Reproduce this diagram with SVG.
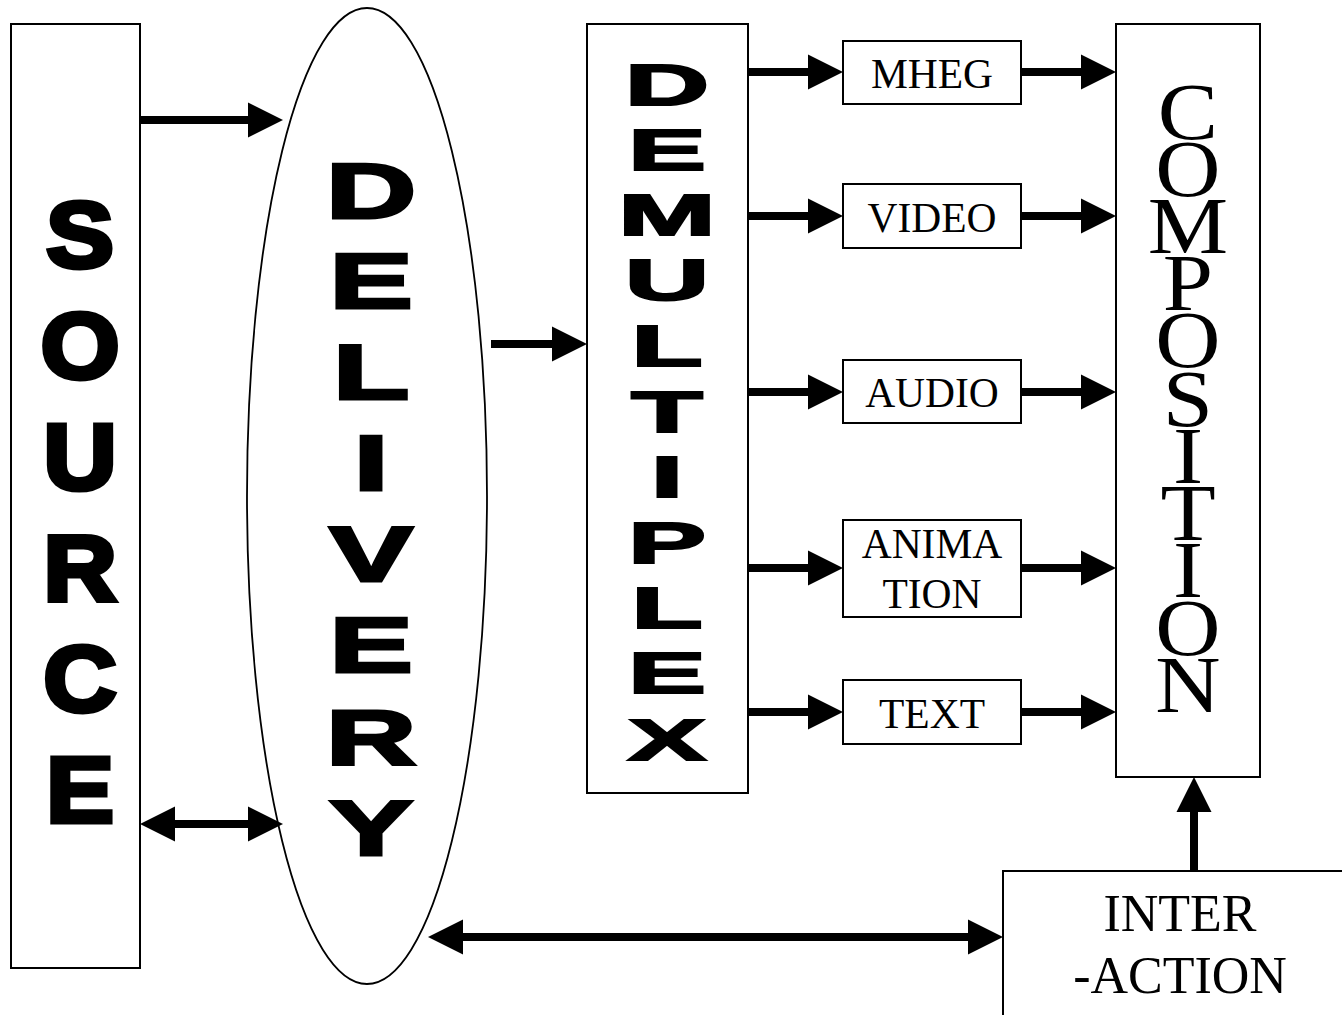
<svg xmlns="http://www.w3.org/2000/svg" width="1342" height="1015" viewBox="0 0 1342 1015">
  <style>
    .box { fill: #fff; stroke: #000; stroke-width: 2; }
    .outline { fill: none; stroke: #000; stroke-width: 1.8; }
    .heavy { font-family: "Liberation Sans", Arial, sans-serif; font-weight: bold; fill: #000; stroke: #000; stroke-linejoin: miter; text-anchor: middle; }
    .serif { font-family: "Liberation Serif", "Times New Roman", serif; fill: #000; text-anchor: middle; }
    .small { font-size: 41.5px; }
    .wire { fill: none; stroke: #000; stroke-width: 8; }
  </style>
  <defs>
    <marker id="head" markerUnits="userSpaceOnUse" markerWidth="36" markerHeight="36" refX="5" refY="17.5" orient="auto-start-reverse" viewBox="0 0 36 35" overflow="visible">
      <path d="M0,0 L35,17.5 L0,35 Z" fill="#000"/>
    </marker>
  </defs>

  <!-- SOURCE -->
  <g id="source">
    <rect class="box" x="11" y="24" width="129" height="944"/>
    <g transform="translate(80,0) scale(1.1,1)">
      <g class="heavy" font-size="92" stroke-width="5">
        <text x="0" y="267.5">S</text>
        <text x="0" y="378.5">O</text>
        <text x="0" y="489.5">U</text>
        <text x="0" y="600.5">R</text>
        <text x="0" y="711.5">C</text>
        <text x="0" y="822.5">E</text>
      </g>
    </g>
  </g>

  <!-- DELIVERY -->
  <g id="delivery">
    <ellipse class="outline" cx="367" cy="496" rx="120" ry="488"/>
    <g transform="translate(371,0) scale(1.6,1)">
      <g class="heavy" font-size="78" stroke-width="3">
        <text x="0" y="218">D</text>
        <text x="0" y="308">E</text>
        <text x="0" y="399">L</text>
        <text x="0" y="490">I</text>
        <text x="0" y="581">V</text>
        <text x="0" y="672">E</text>
        <text x="0" y="764">R</text>
        <text x="0" y="855">Y</text>
      </g>
    </g>
  </g>

  <!-- DEMULTIPLEX -->
  <g id="demultiplex">
    <rect class="box" x="587" y="24" width="161" height="769"/>
    <g transform="translate(667,0) scale(2.05,1)">
      <g class="heavy" font-size="57" stroke-width="2">
        <text x="0" y="105">D</text>
        <text x="0" y="170">E</text>
        <text x="0" y="235">M</text>
        <text x="0" y="300">U</text>
        <text x="0" y="366">L</text>
        <text x="0" y="432">T</text>
        <text x="0" y="497">I</text>
        <text x="0" y="563">P</text>
        <text x="0" y="628">L</text>
        <text x="0" y="693">E</text>
        <text x="0" y="760">X</text>
      </g>
    </g>
  </g>

  <!-- media streams -->
  <g id="mheg">
    <rect class="box" x="843" y="41" width="178" height="63"/>
    <text class="serif small" x="932" y="88">MHEG</text>
  </g>
  <g id="video">
    <rect class="box" x="843" y="184" width="178" height="64"/>
    <text class="serif small" x="932" y="232">VIDEO</text>
  </g>
  <g id="audio">
    <rect class="box" x="843" y="360" width="178" height="63"/>
    <text class="serif small" x="932" y="407">AUDIO</text>
  </g>
  <g id="animation">
    <rect class="box" x="843" y="520" width="178" height="97"/>
    <text class="serif small" x="932" y="558">ANIMA</text>
    <text class="serif small" x="932" y="608">TION</text>
  </g>
  <g id="text">
    <rect class="box" x="843" y="680" width="178" height="64"/>
    <text class="serif small" x="932" y="728">TEXT</text>
  </g>

  <!-- COMPOSITION: one stacked word, tight letter pitch -->
  <g id="composition">
    <rect class="box" x="1116" y="24" width="144" height="753"/>
    <g transform="translate(1188,0) scale(1.13,1)">
      <text class="serif" font-size="80" x="0" y="139"><tspan x="0" y="139">C</tspan><tspan x="0" y="196">O</tspan><tspan x="0" y="253">M</tspan><tspan x="0" y="310">P</tspan><tspan x="0" y="367">O</tspan><tspan x="0" y="426">S</tspan><tspan x="0" y="483">I</tspan><tspan x="0" y="540">T</tspan><tspan x="0" y="597">I</tspan><tspan x="0" y="655">O</tspan><tspan x="0" y="712">N</tspan></text>
    </g>
  </g>

  <!-- INTERACTION -->
  <g id="interaction">
    <rect class="box" x="1003" y="871" width="400" height="200"/>
    <text class="serif" font-size="52" x="1180" y="931">INTER</text>
    <text class="serif" font-size="52" x="1180" y="993">-ACTION</text>
  </g>

  <!-- connectors -->
  <g id="connectors">
    <line class="wire" x1="140" y1="120" x2="253" y2="120" marker-end="url(#head)"/>
    <line class="wire" x1="170" y1="824" x2="253" y2="824" marker-start="url(#head)" marker-end="url(#head)"/>
    <line class="wire" x1="491" y1="344" x2="557" y2="344" marker-end="url(#head)"/>

    <line class="wire" x1="748" y1="72" x2="813" y2="72" marker-end="url(#head)"/>
    <line class="wire" x1="748" y1="216" x2="813" y2="216" marker-end="url(#head)"/>
    <line class="wire" x1="748" y1="392" x2="813" y2="392" marker-end="url(#head)"/>
    <line class="wire" x1="748" y1="568" x2="813" y2="568" marker-end="url(#head)"/>
    <line class="wire" x1="748" y1="712" x2="813" y2="712" marker-end="url(#head)"/>

    <line class="wire" x1="1021" y1="72" x2="1086" y2="72" marker-end="url(#head)"/>
    <line class="wire" x1="1021" y1="216" x2="1086" y2="216" marker-end="url(#head)"/>
    <line class="wire" x1="1021" y1="392" x2="1086" y2="392" marker-end="url(#head)"/>
    <line class="wire" x1="1021" y1="568" x2="1086" y2="568" marker-end="url(#head)"/>
    <line class="wire" x1="1021" y1="712" x2="1086" y2="712" marker-end="url(#head)"/>

    <line class="wire" x1="458" y1="937" x2="973" y2="937" marker-start="url(#head)" marker-end="url(#head)"/>
    <line class="wire" x1="1194" y1="871" x2="1194" y2="807" marker-end="url(#head)"/>
  </g>
</svg>
